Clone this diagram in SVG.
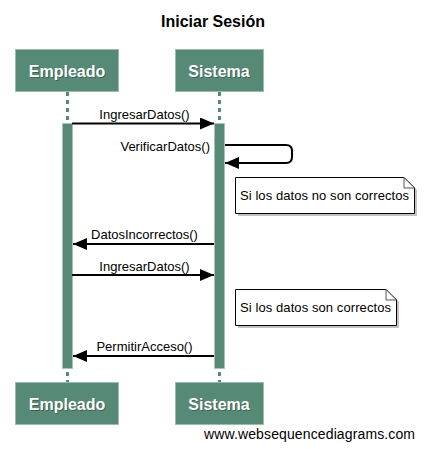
<svg xmlns="http://www.w3.org/2000/svg" width="424" height="449" viewBox="0 0 424 449">
<style>
.t{font-family:"Liberation Sans",Arial,sans-serif;fill:#000}
.title{font-size:16px;font-weight:bold}
.pbox{fill:#578a76;stroke:#9cbcaf;stroke-width:1}
.pt{font-family:"Liberation Sans",Arial,sans-serif;font-size:16px;font-weight:bold;fill:#fff;text-anchor:middle}
.pts{font-family:"Liberation Sans",Arial,sans-serif;font-size:16px;font-weight:bold;fill:#2e4a3f;text-anchor:middle;opacity:0.6}
.life{stroke:#578a76;stroke-width:3;stroke-dasharray:4,4;fill:none}
.act{fill:#578a76;stroke:#a8c4b8;stroke-width:1}
.msg{stroke:#000;stroke-width:2;fill:none}
.lbl{font-family:"Liberation Sans",Arial,sans-serif;font-size:13px;fill:#000}
.note{fill:#fff;stroke:#000;stroke-width:1}
.fold{fill:#fff;stroke:#555;stroke-width:1}
.shadow{fill:#999;opacity:0.6}
</style>
<defs>
<marker id="ah" markerWidth="14" markerHeight="12" refX="14" refY="6" orient="auto" markerUnits="userSpaceOnUse">
<path d="M0,0 L14,6 L0,12 Z" fill="#000"/>
</marker>
</defs>
<text class="t title" x="213" y="27" text-anchor="middle">Iniciar Sesión</text>
<g id="lifelines">
<line class="life" x1="67.5" y1="92" x2="67.5" y2="382"/>
<line class="life" x1="219.5" y1="92" x2="219.5" y2="382"/>
</g>
<g id="empleado-top">
<rect class="pbox" x="15.5" y="49.5" width="103" height="42"/>
<text class="pts" x="68" y="78">Empleado</text>
<text class="pt" x="67" y="77">Empleado</text>
</g>
<g id="sistema-top">
<rect class="pbox" x="175.5" y="49.5" width="88" height="42"/>
<text class="pts" x="220" y="78">Sistema</text>
<text class="pt" x="219" y="77">Sistema</text>
</g>
<g id="empleado-act">
<rect class="act" x="62.5" y="123.5" width="10" height="245"/>
</g>
<g id="sistema-act">
<rect class="act" x="214.5" y="123.5" width="10" height="245"/>
</g>
<g id="empleado-bottom">
<rect class="pbox" x="15.5" y="382.5" width="103" height="42"/>
<text class="pts" x="68" y="411">Empleado</text>
<text class="pt" x="67" y="410">Empleado</text>
</g>
<g id="sistema-bottom">
<rect class="pbox" x="175.5" y="382.5" width="88" height="42"/>
<text class="pts" x="220" y="411">Sistema</text>
<text class="pt" x="219" y="410">Sistema</text>
</g>
<g id="note1">
<path class="shadow" d="M238,180 H407 L417,190 V216 H238 Z"/>
<path class="note" d="M235.5,177.5 H404 L414.5,188 V213.5 H235.5 Z"/>
<path class="fold" d="M404,177.5 V188 H414.5 Z"/>
<text class="lbl" x="240" y="200" textLength="169">Si los datos no son correctos</text>
</g>
<g id="note2">
<path class="shadow" d="M238,292 H389 L399,302 V328 H238 Z"/>
<path class="note" d="M235.5,289.5 H386 L396.5,300 V325.5 H235.5 Z"/>
<path class="fold" d="M386,289.5 V300 H396.5 Z"/>
<text class="lbl" x="240" y="312" textLength="151">Si los datos son correctos</text>
</g>
<g id="connectors">
<line class="msg" x1="72" y1="123.5" x2="214" y2="123.5" marker-end="url(#ah)"/>
<text class="lbl" x="144.5" y="119" text-anchor="middle">IngresarDatos()</text>
<path class="msg" d="M225,145 H286 Q292,145 292,151 V157 Q292,163 286,163 H225" marker-end="url(#ah)"/>
<text class="lbl" x="210" y="151" text-anchor="end">VerificarDatos()</text>
<line class="msg" x1="214" y1="244" x2="73" y2="244" marker-end="url(#ah)"/>
<text class="lbl" x="144.5" y="239" text-anchor="middle">DatosIncorrectos()</text>
<line class="msg" x1="72" y1="275" x2="214" y2="275" marker-end="url(#ah)"/>
<text class="lbl" x="144.5" y="271" text-anchor="middle">IngresarDatos()</text>
<line class="msg" x1="214" y1="356" x2="73" y2="356" marker-end="url(#ah)"/>
<text class="lbl" x="144.5" y="351" text-anchor="middle">PermitirAcceso()</text>
</g>
<text class="t" x="204" y="439" font-size="14" textLength="211">www.websequencediagrams.com</text>
</svg>
